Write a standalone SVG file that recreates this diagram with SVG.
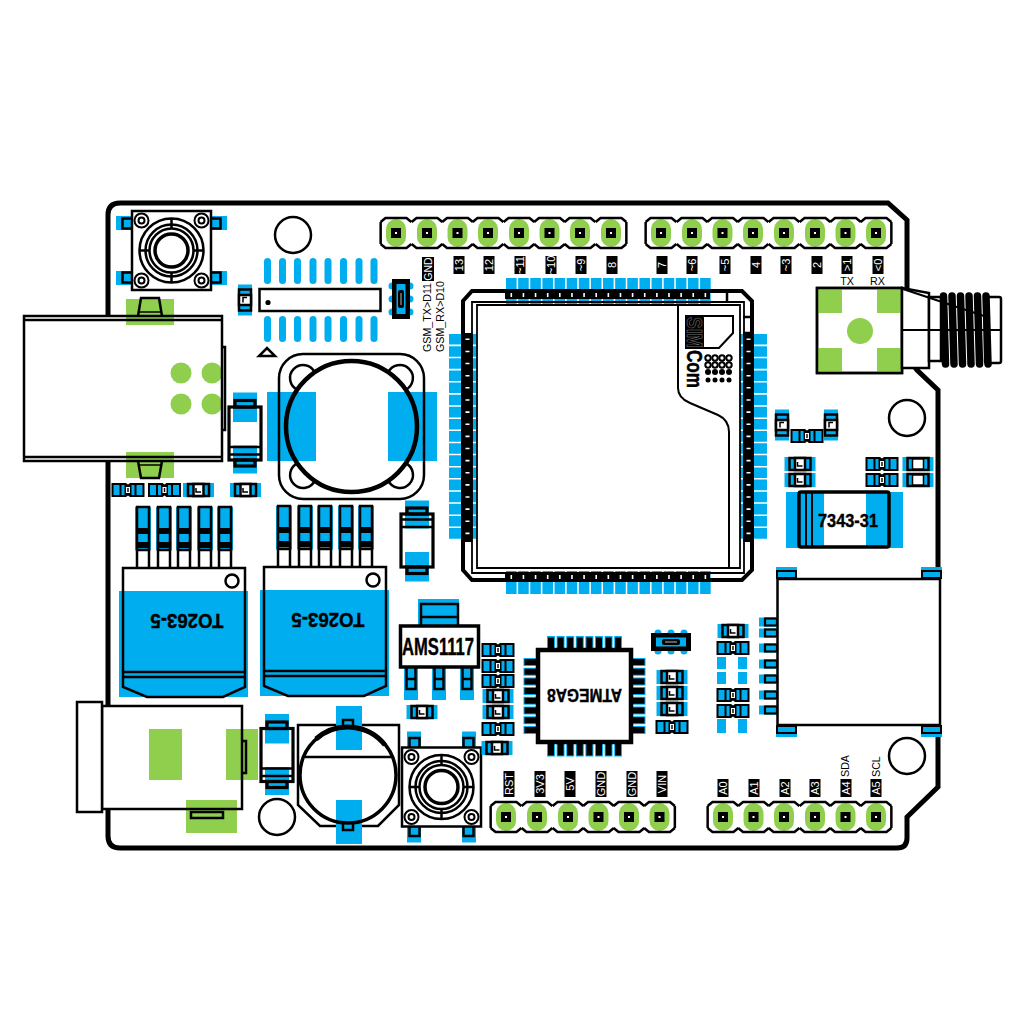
<svg xmlns="http://www.w3.org/2000/svg" xmlns:xlink="http://www.w3.org/1999/xlink" width="1024" height="1024" viewBox="0 0 1024 1024">
<style>
.b{fill:#00aeef}.g{fill:#8fcf4d}
.o{fill:none;stroke:#000;stroke-width:2.5}
.w{fill:#fff;stroke:#000;stroke-width:2.5}
.k{fill:#000}
text{font-family:"Liberation Sans",Arial,sans-serif}
.lb{fill:#000}
.lt{fill:#fff;font-size:11px;text-anchor:middle}
.s{fill:#000;font-size:10.7px}
.bt{fill:#000;font-weight:bold;text-anchor:middle;stroke:#000;stroke-width:.4}
.pad{fill:none;stroke:#00aeef}
.band{fill:none;stroke:#000}
.tick{fill:none;stroke:#fff;stroke-width:4;stroke-dasharray:1.6 10.53;stroke-dashoffset:-4.5}
</style>
<defs>
<g id="pin"><rect class="g" x="-10" y="-14" width="20" height="28" rx="10"/><rect class="k" x="-5" y="-5" width="10" height="10"/><rect x="-1" y="-1" width="2" height="2" fill="#fff"/><path class="o" d="M-15.35,-11L-10.5,-15H10.5L15.35,-11M-15.35,11L-10.5,15H10.5L15.35,11"/></g>
<path id="capL" class="o" d="M-15.35,-11V11"/>
<path id="capR" class="o" d="M15.35,-11V11"/>
<g id="smdA"><rect class="b" x="-15.5" y="-7" width="31" height="14"/><rect x="-10.5" y="-6" width="21" height="12" fill="#00aeef" stroke="#000" stroke-width="2.5"/><rect x="-5" y="-6" width="10" height="12" fill="#fff" stroke="#000" stroke-width="2.5"/><path d="M-2.5,-2V2H2.500" fill="none" stroke="#000" stroke-width="1.5"/></g>
<g id="smdC"><rect class="b" x="-15.5" y="-7" width="31" height="14"/><rect x="-10.5" y="-6" width="21" height="12" fill="#00aeef" stroke="#000" stroke-width="2.5"/><rect x="-5.5" y="-5" width="11" height="10" fill="#fff" stroke="#000" stroke-width="1.5"/></g>
<g id="smdB"><path d="M-16.5,-7H-2L0,-5.500L2,-7H16.500V7H2L0,5.500L-2,7H-16.500Z" fill="#000"/><rect class="b" x="-14.5" y="-5" width="6" height="10"/><rect class="b" x="-6.5" y="-5" width="3" height="10"/><rect class="b" x="8.5" y="-5" width="6" height="10"/><rect class="b" x="3.5" y="-5" width="3" height="10"/><rect x="-2" y="-3" width="4" height="6" fill="#fff"/><rect class="k" x="-.7" y="-2" width="1.4" height="4"/></g>
<g id="btn"><rect class="b" x="-55.5" y="-34.5" width="16" height="14"/><rect class="b" x="39.5" y="-34.5" width="16" height="14"/><rect class="b" x="-55.5" y="20.5" width="16" height="14"/><rect class="b" x="39.5" y="20.5" width="16" height="14"/>
<g class="o" stroke-width="2.5"><rect class="o" x="-49" y="-32" width="10" height="10"/><rect class="o" x="39" y="-32" width="10" height="10"/><rect class="o" x="-49" y="22" width="10" height="10"/><rect class="o" x="39" y="22" width="10" height="10"/></g>
<rect class="w" x="-39.5" y="-39.5" width="79" height="79"/>
<g class="o"><circle r="32"/><circle r="26"/><circle r="22"/><circle r="16.5" stroke-width="3.5"/><path d="M0,-32V-22M0,22V32M-32,0H-22M22,0H32"/></g>
<g fill="#fff" stroke="#000" stroke-width="2"><circle cx="-30" cy="-30" r="7"/><circle cx="30" cy="-30" r="7"/><circle cx="-30" cy="30" r="7"/><circle cx="30" cy="30" r="7"/><circle cx="-30" cy="-30" r="3"/><circle cx="30" cy="-30" r="3"/><circle cx="-30" cy="30" r="3"/><circle cx="30" cy="30" r="3"/></g></g>
<g id="diode"><rect x="-16" y="-26.5" width="32" height="53" fill="#fff"/><rect class="b" x="-12" y="-41" width="24" height="29.5"/><rect class="b" x="-12" y="12" width="24" height="28"/><g fill="none" stroke="#000" stroke-width="3.200"><rect x="-16" y="-26.5" width="32" height="53"/><rect x="-10" y="-33" width="20" height="6.5"/><rect x="-10" y="26.5" width="20" height="6"/><path d="M-16,13.5H16M-16,21H16" stroke-width="2.500"/></g></g>
<path id="lobe" class="o" d="M-36.6,-53.7A13,13 0 1 0 -53.7,-36.5"/>
<g id="lead"><rect class="b" x="-8" y="0" width="16" height="43"/><rect x="-6" y="0" width="12" height="43" fill="#00aeef" stroke="#000" stroke-width="2.5"/><rect class="k" x="-6" y="21" width="12" height="6"/><rect class="k" x="-6" y="35" width="12" height="6"/><path class="o" d="M-6,43V61M6,43V61"/></g>
<g id="to263"><rect x="0" y="0" width="122" height="129" fill="#fff"/><rect class="b" x="-4" y="23" width="129" height="106"/>
<use xlink:href="#lead" x="20" y="-61"/><use xlink:href="#lead" x="41" y="-61"/><use xlink:href="#lead" x="61" y="-61"/><use xlink:href="#lead" x="82" y="-61"/><use xlink:href="#lead" x="102" y="-61"/>
<path class="o" d="M0,0H122V119L100,129H24L0,119ZM0,104H122M0,109H122"/><circle class="w" cx="109" cy="13" r="6.5"/><text class="bt" transform="translate(64,53) rotate(180)" y="7" font-size="20" textLength="73" lengthAdjust="spacingAndGlyphs">TO263-5</text></g>
<g id="mini"><circle class="b" cx="-13" cy="-9" r="3.5"/><circle class="b" cx="0" cy="-9" r="3.5"/><circle class="b" cx="13" cy="-9" r="3.5"/><circle class="b" cx="-13" cy="9" r="3.5"/><circle class="b" cx="0" cy="9" r="3.5"/><circle class="b" cx="13" cy="9" r="3.5"/><rect class="k" x="-20" y="-9" width="40" height="18"/><rect class="b" x="-15" y="-4.5" width="30" height="9"/><rect class="k" x="-9" y="-3" width="18" height="6" rx="2"/><path d="M-6,0H6" stroke="#bbb" stroke-width="1"/></g>
<g id="tabT"><rect class="b" x="-10" y="-6" width="21" height="11"/><path d="M-9,-2H10V5H-9Z" fill="none" stroke="#000" stroke-width="2"/></g>
<g id="sdp"><rect class="b" x="-18" y="-4.5" width="18" height="9"/><rect x="-12" y="-3.5" width="12" height="7" fill="none" stroke="#000" stroke-width="2.2"/></g>
</defs>
<rect width="1024" height="1024" fill="#fff"/>
<g id="board"><path d="M120,203H888L907,220V356L917,370L938,390V787L907,817V838Q907,848 897,848H120Q108,848 108,836V215Q108,203 120,203Z" fill="#fff" stroke="#000" stroke-width="5"/>
<g fill="#fff" stroke="#000" stroke-width="2.5"><circle cx="293" cy="235" r="18"/><circle cx="907" cy="418" r="18"/><circle cx="907" cy="756" r="18"/><circle cx="277" cy="817" r="18"/></g></g>
<g id="connectors"></g>
<g id="header-top-1"><use xlink:href="#pin" x="396" y="233"/><use xlink:href="#pin" x="427" y="233"/><use xlink:href="#pin" x="457.500" y="233"/><use xlink:href="#pin" x="488" y="233"/><use xlink:href="#pin" x="519" y="233"/><use xlink:href="#pin" x="549.500" y="233"/><use xlink:href="#pin" x="580" y="233"/><use xlink:href="#pin" x="611" y="233"/><use xlink:href="#capL" x="396" y="233"/><use xlink:href="#capR" x="611" y="233"/></g>
<g id="header-top-2"><use xlink:href="#pin" x="661" y="233"/><use xlink:href="#pin" x="692" y="233"/><use xlink:href="#pin" x="722.500" y="233"/><use xlink:href="#pin" x="753" y="233"/><use xlink:href="#pin" x="784" y="233"/><use xlink:href="#pin" x="815" y="233"/><use xlink:href="#pin" x="845.500" y="233"/><use xlink:href="#pin" x="876" y="233"/><use xlink:href="#capL" x="661" y="233"/><use xlink:href="#capR" x="876" y="233"/></g>
<g id="header-bottom-1"><use xlink:href="#pin" x="506" y="817"/><use xlink:href="#pin" x="537" y="817"/><use xlink:href="#pin" x="568" y="817"/><use xlink:href="#pin" x="598.500" y="817"/><use xlink:href="#pin" x="629" y="817"/><use xlink:href="#pin" x="659.500" y="817"/><use xlink:href="#capL" x="506" y="817"/><use xlink:href="#capR" x="659.500" y="817"/></g>
<g id="header-bottom-2"><use xlink:href="#pin" x="723" y="817"/><use xlink:href="#pin" x="753.500" y="817"/><use xlink:href="#pin" x="784" y="817"/><use xlink:href="#pin" x="815" y="817"/><use xlink:href="#pin" x="845.500" y="817"/><use xlink:href="#pin" x="876" y="817"/><use xlink:href="#capL" x="723" y="817"/><use xlink:href="#capR" x="876" y="817"/></g>
<g id="pin-labels">
<g transform="translate(428,281) rotate(-90)"><rect class="lb" y="-6" width="24" height="12"/><text class="lt" x="12" y="3.6" style="font-size:10.500px">GND</text></g>
<g transform="translate(459,274) rotate(-90)"><rect class="lb" y="-5.500" width="18" height="11"/><text class="lt" x="9" y="3.800">13</text></g>
<g transform="translate(489,274) rotate(-90)"><rect class="lb" y="-5.500" width="18" height="11"/><text class="lt" x="9" y="3.800">12</text></g>
<g transform="translate(520,274) rotate(-90)"><rect class="lb" y="-5.500" width="18" height="11"/><text class="lt" x="9" y="3.800">~11</text></g>
<g transform="translate(551,274) rotate(-90)"><rect class="lb" y="-5.500" width="18" height="11"/><text class="lt" x="9" y="3.800">~10</text></g>
<g transform="translate(581,274) rotate(-90)"><rect class="lb" y="-5.500" width="18" height="11"/><text class="lt" x="9" y="3.800">~9</text></g>
<g transform="translate(612,274) rotate(-90)"><rect class="lb" y="-5.500" width="18" height="11"/><text class="lt" x="9" y="3.800">8</text></g>
<g transform="translate(662,274) rotate(-90)"><rect class="lb" y="-5.500" width="18" height="11"/><text class="lt" x="9" y="3.800">7</text></g>
<g transform="translate(692,274) rotate(-90)"><rect class="lb" y="-5.500" width="18" height="11"/><text class="lt" x="9" y="3.800">~6</text></g>
<g transform="translate(725,274) rotate(-90)"><rect class="lb" y="-5.500" width="18" height="11"/><text class="lt" x="9" y="3.800">~5</text></g>
<g transform="translate(756,274) rotate(-90)"><rect class="lb" y="-5.500" width="18" height="11"/><text class="lt" x="9" y="3.800">4</text></g>
<g transform="translate(786,274) rotate(-90)"><rect class="lb" y="-5.500" width="18" height="11"/><text class="lt" x="9" y="3.800">~3</text></g>
<g transform="translate(817,274) rotate(-90)"><rect class="lb" y="-5.500" width="18" height="11"/><text class="lt" x="9" y="3.800">2</text></g>
<g transform="translate(847,274) rotate(-90)"><rect class="lb" y="-5.500" width="18" height="11"/><text class="lt" x="9" y="3.800">&gt;1</text></g>
<g transform="translate(878,274) rotate(-90)"><rect class="lb" y="-5.500" width="18" height="11"/><text class="lt" x="9" y="3.800">&lt;0</text></g>
<text class="s" x="847" y="285" text-anchor="middle">TX</text><text class="s" x="877.500" y="285" text-anchor="middle">RX</text>
<text class="s" transform="translate(431,352) rotate(-90)">GSM_TX&gt;D11</text>
<text class="s" transform="translate(444,352) rotate(-90)">GSM_RX&gt;D10</text>
<g transform="translate(509,797) rotate(-90)"><rect class="lb" y="-5.500" width="26" height="11"/><text class="lt" x="13" y="3.800">RST</text></g>
<g transform="translate(540,797) rotate(-90)"><rect class="lb" y="-5.500" width="26" height="11"/><text class="lt" x="13" y="3.800">3V3</text></g>
<g transform="translate(570,797) rotate(-90)"><rect class="lb" y="-5.500" width="26" height="11"/><text class="lt" x="13" y="3.800">5V</text></g>
<g transform="translate(601,797) rotate(-90)"><rect class="lb" y="-5.500" width="26" height="11"/><text class="lt" x="13" y="3.800">GND</text></g>
<g transform="translate(632,797) rotate(-90)"><rect class="lb" y="-5.500" width="26" height="11"/><text class="lt" x="13" y="3.800">GND</text></g>
<g transform="translate(662,797) rotate(-90)"><rect class="lb" y="-5.500" width="26" height="11"/><text class="lt" x="13" y="3.800">VIN</text></g>
<g transform="translate(723,797) rotate(-90)"><rect class="lb" y="-5.500" width="18" height="11"/><text class="lt" x="9" y="3.800">A0</text></g>
<g transform="translate(754,797) rotate(-90)"><rect class="lb" y="-5.500" width="18" height="11"/><text class="lt" x="9" y="3.800">A1</text></g>
<g transform="translate(785,797) rotate(-90)"><rect class="lb" y="-5.500" width="18" height="11"/><text class="lt" x="9" y="3.800">A2</text></g>
<g transform="translate(815,797) rotate(-90)"><rect class="lb" y="-5.500" width="18" height="11"/><text class="lt" x="9" y="3.800">A3</text></g>
<g transform="translate(846,797) rotate(-90)"><rect class="lb" y="-5.500" width="18" height="11"/><text class="lt" x="9" y="3.800">A4</text></g>
<g transform="translate(876,797) rotate(-90)"><rect class="lb" y="-5.500" width="18" height="11"/><text class="lt" x="9" y="3.800">A5</text></g>
<text class="s" transform="translate(849,777) rotate(-90)">SDA</text><text class="s" transform="translate(880,777) rotate(-90)">SCL</text>
</g>
<g id="button-1"><use xlink:href="#btn" transform="translate(171.500,250.500)"/></g>
<g id="button-2"><use xlink:href="#btn" transform="translate(441.500,787) rotate(90)"/></g>
<g id="ethernet"><rect x="24" y="316" width="198" height="145" fill="#fff"/><rect class="g" x="126" y="299" width="48" height="26"/><rect class="g" x="126" y="452" width="48" height="26"/><circle class="g" cx="181" cy="373" r="10.500"/><circle class="g" cx="212" cy="373" r="10.500"/><circle class="g" cx="181" cy="404" r="10.500"/><circle class="g" cx="212" cy="404" r="10.500"/>
<path class="o" d="M138,316L141,298H159L162,316M138,461L141,478H159L162,461M222,347H225V430H222"/><path d="M139,312H161M139,465H161" fill="none" stroke="#000" stroke-width="1.500"/><rect class="o" x="24" y="316" width="198" height="145"/><path class="o" d="M24,320H222M24,457H222"/></g>
<g id="sop-chip"><g class="b"><rect x="264" y="258" width="7" height="26" rx="3.500"/><rect x="279" y="258" width="7" height="26" rx="3.500"/><rect x="294" y="258" width="7" height="26" rx="3.500"/><rect x="309.500" y="258" width="7" height="26" rx="3.500"/><rect x="324.500" y="258" width="7" height="26" rx="3.500"/><rect x="340" y="258" width="7" height="26" rx="3.500"/><rect x="355.500" y="258" width="7" height="26" rx="3.500"/><rect x="370.500" y="258" width="7" height="26" rx="3.500"/><rect x="264" y="316" width="7" height="26" rx="3.500"/><rect x="279" y="316" width="7" height="26" rx="3.500"/><rect x="294" y="316" width="7" height="26" rx="3.500"/><rect x="309.500" y="316" width="7" height="26" rx="3.500"/><rect x="324.500" y="316" width="7" height="26" rx="3.500"/><rect x="340" y="316" width="7" height="26" rx="3.500"/><rect x="355.500" y="316" width="7" height="26" rx="3.500"/><rect x="370.500" y="316" width="7" height="26" rx="3.500"/></g>
<rect class="w" x="259.500" y="289" width="121" height="22"/><circle class="k" cx="268" cy="302.500" r="2.600"/><path class="w" d="M259,356H275L267,348Z"/></g>
<g id="mini-1"><use xlink:href="#mini" transform="translate(401,299) rotate(90)"/></g>
<g id="mini-2"><use xlink:href="#mini" transform="translate(671,642)"/></g>
<g id="inductor"><rect x="279" y="354" width="145" height="145" rx="24" fill="#fff"/><rect class="b" x="267" y="392" width="49" height="69"/><rect class="b" x="388" y="392" width="49" height="69"/><rect class="o" x="279" y="354" width="145" height="145" rx="24"/>
<g transform="translate(351.500,426.500)"><use xlink:href="#lobe"/><use xlink:href="#lobe" transform="rotate(90)"/><use xlink:href="#lobe" transform="rotate(180)"/><use xlink:href="#lobe" transform="rotate(270)"/><circle r="65.500" fill="none" stroke="#000" stroke-width="4.500"/></g></g>
<g id="diode-1"><use xlink:href="#diode" transform="translate(245,433.500)"/></g>
<g id="diode-2"><use xlink:href="#diode" transform="translate(417,540.500) rotate(180)"/></g>
<g id="diode-3"><use xlink:href="#diode" transform="translate(277,755)"/></g>
<g id="sim-module">
<line class="pad" x1="506" y1="291.500" x2="711" y2="291.500" stroke-width="27" stroke-dasharray="10.600 1.530"/>
<line class="pad" x1="506" y1="582.500" x2="711" y2="582.500" stroke-width="23" stroke-dasharray="10.600 1.530"/>
<line class="pad" x1="463" y1="334" x2="463" y2="540" stroke-width="28" stroke-dasharray="10.600 1.530"/>
<line class="pad" x1="753.500" y1="334" x2="753.500" y2="540" stroke-width="27" stroke-dasharray="10.600 1.530"/>
<path d="M472,291H742L752,301V570L742,580H472L463,570V301Z" fill="none" stroke="#000" stroke-width="4"/>
<path d="M472,302H744V573H472ZM477,305H740V568H477Z" fill="none" stroke="#000" stroke-width="1.800"/>
<path d="M727,292V301M743,317H750M743,333H750" class="o" stroke-width="1.500"/>
<path d="M678,305V388Q678,398 690,403L718,415Q729,420 729,432V568" fill="none" stroke="#000" stroke-width="2"/>
<line class="band" x1="505" y1="295" x2="710" y2="295" stroke-width="8"/><line class="tick" x1="506" y1="295" x2="711" y2="295"/>
<line class="band" x1="505" y1="577" x2="710" y2="577" stroke-width="8"/><line class="tick" x1="506" y1="577" x2="711" y2="577"/>
<line class="band" x1="467.500" y1="333" x2="467.500" y2="542" stroke-width="10"/><line class="tick" x1="467.500" y1="334" x2="467.500" y2="540"/>
<line class="band" x1="748.500" y1="333" x2="748.500" y2="542" stroke-width="10"/><line class="tick" x1="748.500" y1="334" x2="748.500" y2="540"/>
<path d="M686,316H733V333L719,348H686Z" fill="none" stroke="#000" stroke-width="2"/>
<rect class="k" x="686" y="316" width="18" height="32" rx="2"/>
<text transform="translate(687,317) rotate(90)" font-size="22" font-weight="bold" fill="#000" stroke="#777" stroke-width=".6" textLength="31" lengthAdjust="spacingAndGlyphs">SIM</text>
<text transform="translate(687,350) rotate(90)" font-size="22" font-weight="bold" fill="#000" stroke="#000" stroke-width=".5" textLength="38" lengthAdjust="spacingAndGlyphs">Com</text>
<g fill="#fff" stroke="#000" stroke-width="2"><circle cx="708" cy="358" r="2.700"/><circle cx="715" cy="358" r="2.700"/><circle cx="722" cy="358" r="2.700"/><circle cx="729" cy="358" r="2.700"/><circle cx="708" cy="365" r="2.700"/><circle cx="715" cy="365" r="2.700"/><circle cx="722" cy="365" r="2.700"/><circle cx="729" cy="365" r="2.700"/></g>
<g class="k"><circle cx="708" cy="372" r="3"/><circle cx="715" cy="372" r="3"/><circle cx="722" cy="372" r="3"/><circle cx="729" cy="372" r="3"/><circle cx="708" cy="380" r="2.500"/><circle cx="715" cy="380" r="2.500"/><circle cx="722" cy="380" r="2.500"/><circle cx="729" cy="380" r="2.500"/></g>
</g>
<g id="sma"><rect class="w" x="817" y="288" width="85" height="85"/><g class="g"><rect x="817" y="288" width="25" height="25"/><rect x="877" y="288" width="25" height="25"/><rect x="817" y="348" width="25" height="25"/><rect x="877" y="348" width="25" height="25"/><circle cx="860" cy="331" r="13"/></g><rect class="o" x="817" y="288" width="85" height="85"/>
<path class="w" d="M902,288L929,293V368H902Z"/><rect class="w" x="929" y="297" width="12" height="64"/><rect class="w" x="985" y="297" width="16" height="66" rx="2"/>
<g fill="none" stroke="#000" stroke-width="7.500" stroke-linecap="round"><path d="M943.500,296L945.500,364M952,296L954,364M960.500,296L962.500,364M969,296L971,364M977.500,296L979.500,364M986,296L988,364"/></g>
<path d="M903,289L990,318M902,330H1001" fill="none" stroke="#000" stroke-width="2"/></g>
<g id="tantalum"><rect class="b" x="786" y="492" width="38" height="56"/><rect class="b" x="866" y="492" width="37" height="56"/><rect x="799" y="492" width="90" height="55" fill="none" stroke="#000" stroke-width="3.500" rx="2"/><path d="M806,492V547M812,492V547" fill="none" stroke="#000" stroke-width="2"/><text class="bt" x="848" y="527" font-size="19" textLength="60" lengthAdjust="spacingAndGlyphs">7343-31</text></g>
<g id="to263-1"><use xlink:href="#to263" x="123" y="568"/></g>
<g id="to263-2"><use xlink:href="#to263" x="264" y="567"/></g>
<g id="ams1117"><rect class="b" x="418" y="599" width="41" height="30"/><path class="o" d="M421,626V604H458V626M421,617H458"/>
<rect class="b" x="404" y="666" width="14" height="34"/><rect class="b" x="432" y="666" width="14" height="34"/><rect class="b" x="460" y="666" width="14" height="34"/>
<path class="o" d="M406.500,668V689H415.500V668M406.500,679H415.500M434.500,668V689H443.500V668M434.500,679H443.500M462.500,668V689H471.500V668M462.500,679H471.500"/>
<rect x="400.500" y="626" width="78" height="41" fill="#fff" stroke="#000" stroke-width="3.500"/><text class="bt" x="438" y="655" font-size="23" textLength="72" lengthAdjust="spacingAndGlyphs">AMS1117</text></g>
<g id="atmega8">
<line x1="547" y1="643.500" x2="622" y2="643.500" stroke="#00aeef" stroke-width="15" stroke-dasharray="8 1.600"/><line x1="547" y1="749" x2="622" y2="749" stroke="#00aeef" stroke-width="15" stroke-dasharray="8 1.600"/>
<line x1="531" y1="658" x2="531" y2="734" stroke="#00aeef" stroke-width="15" stroke-dasharray="8 1.700"/><line x1="638" y1="658" x2="638" y2="734" stroke="#00aeef" stroke-width="15" stroke-dasharray="8 1.700"/>
<g fill="none" stroke="#000"><line x1="548" y1="644" x2="621" y2="644" stroke-width="13" stroke-dasharray="6 3.600"/><line x1="548" y1="749" x2="621" y2="749" stroke-width="13" stroke-dasharray="6 3.600"/><line x1="531" y1="659" x2="531" y2="733" stroke-width="13" stroke-dasharray="6 3.700"/><line x1="638" y1="659" x2="638" y2="733" stroke-width="13" stroke-dasharray="6 3.700"/></g>
<rect x="538" y="650" width="93" height="92" fill="#fff" stroke="#000" stroke-width="4.500"/>
<text class="bt" transform="translate(584.500,696) rotate(180)" y="7" font-size="19" textLength="75" lengthAdjust="spacingAndGlyphs">ATMEGA8</text></g>
<g id="sd-holder"><use xlink:href="#tabT" x="786" y="573"/><use xlink:href="#tabT" x="931" y="573"/><use xlink:href="#tabT" transform="translate(786,731) scale(1,-1)"/><use xlink:href="#tabT" transform="translate(931,731) scale(1,-1)"/>
<rect x="777.500" y="579" width="162.500" height="146" fill="#fff" stroke="#000" stroke-width="2.500"/>
<use xlink:href="#sdp" x="777" y="622"/><use xlink:href="#sdp" x="777" y="633"/><use xlink:href="#sdp" x="777" y="648"/><use xlink:href="#sdp" x="777" y="664"/><use xlink:href="#sdp" x="777" y="679"/><use xlink:href="#sdp" x="777" y="695"/><use xlink:href="#sdp" x="777" y="710"/></g>
<g id="dc-jack"><rect x="102" y="706" width="140" height="103" fill="#fff"/><rect class="g" x="149" y="729" width="33" height="51"/><rect class="g" x="226" y="729" width="32" height="51"/><rect class="g" x="186" y="800" width="51" height="33"/><path class="o" d="M242,741H246V773H242M191,812H223V818H191Z"/><rect class="o" x="102" y="706" width="140" height="103"/><rect class="w" x="77" y="702" width="25" height="110"/></g>
<g id="battery"><path class="w" d="M298,725H399V805L378,826H320L298,805Z" stroke-width="2.500"/><rect class="b" x="336" y="706" width="26" height="44"/><rect class="b" x="336" y="800" width="26" height="44"/><path class="o" d="M343,726V720H353V726M343,823V830H353V823"/><circle cx="348" cy="775" r="48" fill="none" stroke="#000" stroke-width="3.500"/><path d="M316,739A48,48 0 0 1 385,745" fill="none" stroke="#000" stroke-width="5"/><path class="o" d="M305,757H392"/></g>
<g id="smd-parts">
<use xlink:href="#smdB" x="128" y="490"/><use xlink:href="#smdB" x="164.500" y="490"/><use xlink:href="#smdA" x="198.500" y="490"/><use xlink:href="#smdA" x="245.500" y="490"/>
<use xlink:href="#smdA" transform="translate(245,300) rotate(90)"/>
<use xlink:href="#smdA" transform="translate(782,425) rotate(90)"/><use xlink:href="#smdA" transform="translate(831,425) rotate(90)"/><use xlink:href="#smdB" x="807" y="436"/>
<use xlink:href="#smdA" x="800" y="464"/><use xlink:href="#smdA" x="800" y="480"/><use xlink:href="#smdB" x="882" y="464"/><use xlink:href="#smdB" x="882" y="480"/><use xlink:href="#smdC" x="918" y="464"/><use xlink:href="#smdC" x="918" y="480"/>
<use xlink:href="#smdA" x="422" y="712"/>
<use xlink:href="#smdB" x="498" y="650"/><use xlink:href="#smdB" x="498" y="666"/><use xlink:href="#smdB" x="498" y="681"/><use xlink:href="#smdA" x="498" y="696"/><use xlink:href="#smdA" x="498" y="712"/><use xlink:href="#smdB" x="498" y="729"/><use xlink:href="#smdA" x="497" y="748"/>
<use xlink:href="#smdA" x="672" y="677"/><use xlink:href="#smdA" x="672" y="693"/><use xlink:href="#smdA" x="672" y="709"/><use xlink:href="#smdB" x="672" y="727"/>
<use xlink:href="#smdA" x="733" y="631"/><use xlink:href="#smdB" x="733" y="648"/><use xlink:href="#smdB" x="733" y="695"/><use xlink:href="#smdB" x="733" y="711"/>
<g class="b"><rect x="717" y="657" width="9" height="12"/><rect x="738" y="657" width="9" height="12"/><rect x="717" y="672" width="9" height="12"/><rect x="738" y="672" width="9" height="12"/><rect x="717" y="719" width="9" height="14"/><rect x="738" y="719" width="9" height="14"/></g>
</g>
</svg>
